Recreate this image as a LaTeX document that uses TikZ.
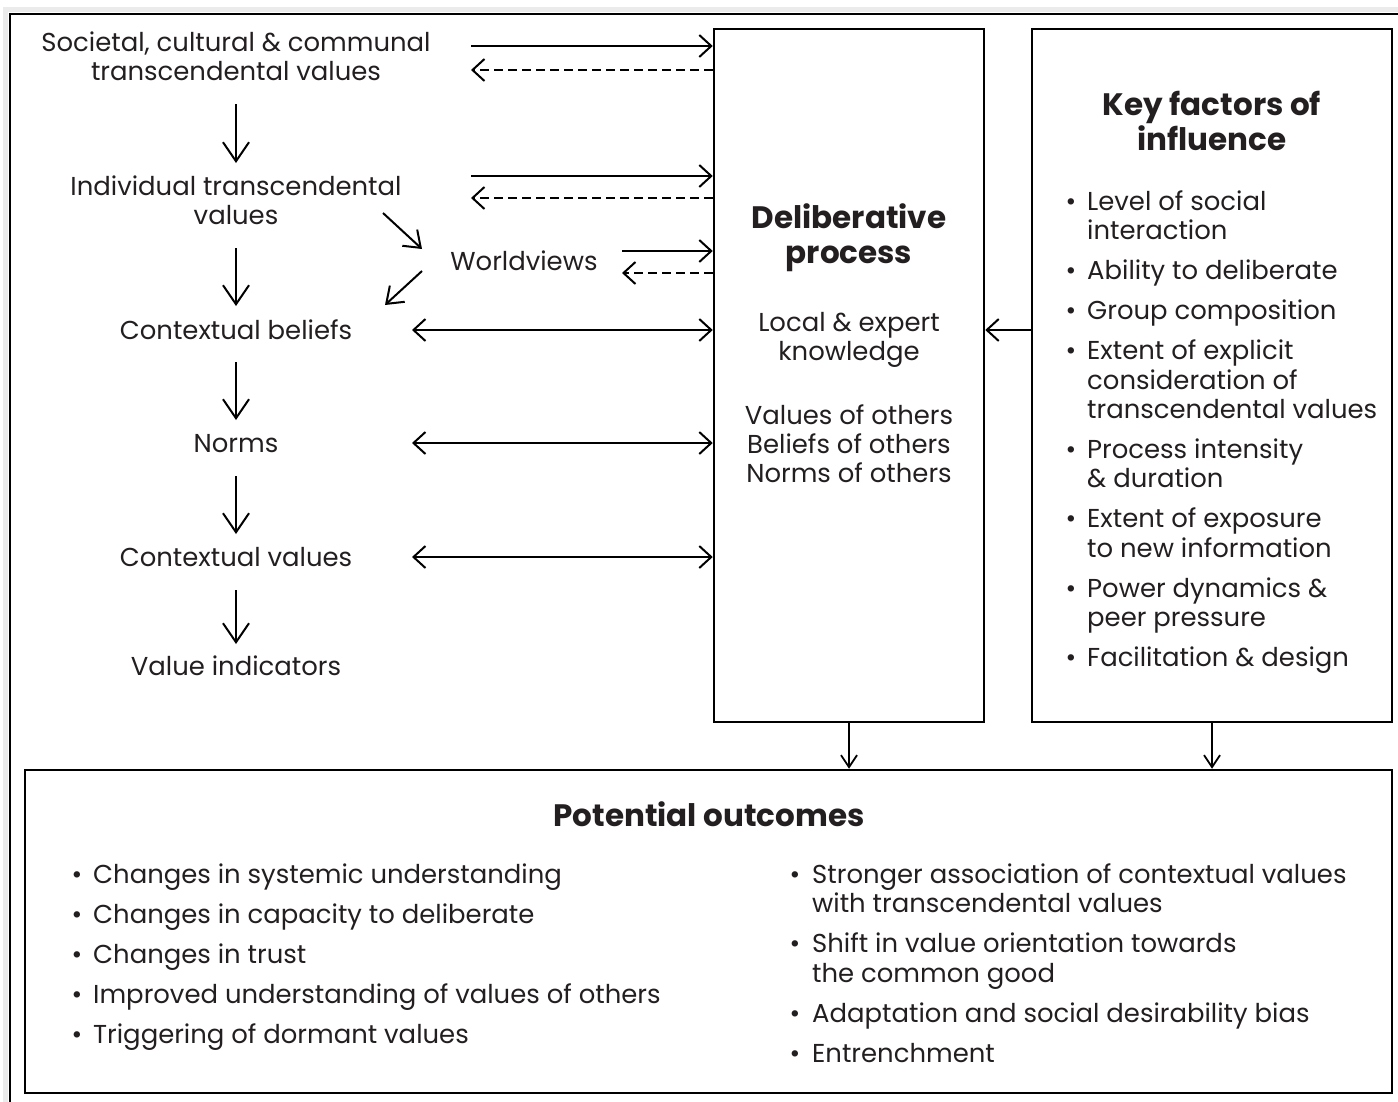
\documentclass[tikz,border=0pt]{standalone}
\usepackage{fontspec}
\setmainfont{Poppins}
\usetikzlibrary{arrows.meta,calc}
\definecolor{tcol}{RGB}{35,31,32}
\newcommand\regf{\fontsize{25.9}{29}\selectfont}
\newcommand\boldf{\fontsize{31}{35}\selectfont\bfseries}
\begin{document}
\begin{tikzpicture}[x=1pt,y=-1pt,
  box/.style={draw=black, line width=2.5pt, inner sep=0pt, fill=none},
  t/.style={font=\regf, text=tcol, inner sep=0pt, anchor=base},
  tl/.style={t, anchor=base west},
  tb/.style={font=\boldf, text=tcol, inner sep=0pt, anchor=base},
  arr/.style={line width=2pt, -{Straight Barb[length=12pt,width=22pt]}},
  darr/.style={arr, dash pattern=on 9pt off 5pt},
  dbl/.style={line width=2pt, {Straight Barb[length=12pt,width=22pt]}-{Straight Barb[length=12pt,width=22pt]}},
  varr/.style={line width=2pt, -{Straight Barb[length=19pt,width=26pt]}},
  diarr/.style={line width=2pt, -{Straight Barb[length=15pt,width=22pt]}},
  sarr/.style={line width=1.8pt, -{Straight Barb[length=12pt,width=16pt]}}
]
\useasboundingbox (0,0) rectangle (1398,1101);
\fill[white] (0,0) rectangle (1398,1101);
% outer frame with faint shadow
\draw[black!8, line width=5pt] (5,1110) -- (5,9) -- (1410,9);
\draw[line width=2.5pt] (10,1110) -- (10,14) -- (1410,14);

% boxes
\node[box, minimum width=270pt, minimum height=693pt] (delib) at (849,375.5) {};
\node[box, minimum width=360pt, minimum height=693pt] (keyf) at (1212,375.5) {};
\node[box, minimum width=1367pt, minimum height=323pt] (outc) at (708.5,931.5) {};

% left column
\node[t] (s1) at (236,51) {Societal, cultural \& communal};
\node[t] (s2) at (236,80) {transcendental values};
\node[t] (i1) at (236,195) {Individual transcendental};
\node[t] (i2) at (236,224) {values};
\node[t] (cb) at (236,339) {Contextual beliefs};
\node[t] (no) at (236,452) {Norms};
\node[t] (cv) at (236,566) {Contextual values};
\node[t] (vi) at (236,675) {Value indicators};
\node[t] (wv) at (524,270) {Worldviews};

\draw[varr] (s2.south |- 0,104) -- (i1.north |- 0,163);
\draw[varr] (i2.south |- 0,248) -- (cb.north |- 0,306);
\draw[varr] (cb.south |- 0,362) -- (no.north |- 0,420);
\draw[varr] (no.south |- 0,476) -- (cv.north |- 0,534);
\draw[varr] (cv.south |- 0,590) -- (vi.north |- 0,644);

\coordinate (d1) at (383,213);
\coordinate (d2) at (422,249);
\coordinate (d3) at (422,271);
\coordinate (d4) at (385,305);
\draw[diarr] (d1) -- (d2);
\draw[diarr] (d3) -- (d4);

% horizontal links
\coordinate (h1) at (471,46);
\coordinate (h2) at (471,70);
\coordinate (h3) at (471,176);
\coordinate (h4) at (471,198);
\coordinate (h5) at (622,251);
\coordinate (h6) at (622,273);
\coordinate (h7) at (412,330);
\coordinate (h8) at (412,443);
\coordinate (h9) at (412,557);
\draw[arr] (h1) -- (delib.west |- h1);
\draw[darr] (delib.west |- h2) -- (h2);
\draw[arr] (h3) -- (delib.west |- h3);
\draw[darr] (delib.west |- h4) -- (h4);
\draw[arr] (h5) -- (delib.west |- h5);
\draw[darr] (delib.west |- h6) -- (h6);
\draw[dbl] (h7) -- (delib.west |- h7);
\draw[dbl] (h8) -- (delib.west |- h8);
\draw[dbl] (h9) -- (delib.west |- h9);

% deliberative process text
\node[tb] (dp1) at (849,228) {Deliberative};
\node[tb] (dp2) at (849,263) {process};
\node[t] (dl1) at (849,331) {Local \& expert};
\node[t] (dl2) at (849,360) {knowledge};
\node[t] (dv1) at (849,424) {Values of others};
\node[t] (dv2) at (849,453) {Beliefs of others};
\node[t] (dv3) at (849,482) {Norms of others};

% key factors
\node[tb] (kh1) at (1212,115) {Key factors of};
\node[tb] (kh2) at (1212,150) {influence};
\foreach \y/\txt/\b [count=\i] in {
  210/Level of social/1, 239/interaction/0,
  279/Ability to deliberate/1,
  319/Group composition/1,
  359/Extent of explicit/1, 389/consideration of/0, 418/transcendental values/0,
  458/Process intensity/1, 487/\& duration/0,
  527/Extent of exposure/1, 557/to new information/0,
  597/Power dynamics \&/1, 626/peer pressure/0,
  666/Facilitation \& design/1}{
  \node[tl] (kf\i) at (1087,\y) {\txt};
  \ifnum\b=1 \node[t] (kb\i) at (1071,\y) {•};\fi
}

\draw[arr] (keyf.west |- 0,330) -- (delib.east |- 0,330);
\draw[sarr] (delib.south) -- (outc.north -| delib.south);
\draw[sarr] (keyf.south) -- (outc.north -| keyf.south);

% outcomes
\node[tb] (po) at (709,826) {Potential outcomes};
\foreach \y/\txt [count=\i] in {
  883/Changes in systemic understanding,
  923/Changes in capacity to deliberate,
  963/Changes in trust,
  1003/Improved understanding of values of others,
  1043/Triggering of dormant values}{
  \node[tl] (ol\i) at (93,\y) {\txt};
  \node[t] (olb\i) at (77,\y) {•};
}
\foreach \y/\txt/\b [count=\i] in {
  883/Stronger association of contextual values/1,
  912/with transcendental values/0,
  952/Shift in value orientation towards/1,
  982/the common good/0,
  1022/Adaptation and social desirability bias/1,
  1062/Entrenchment/1}{
  \node[tl] (or\i) at (812,\y) {\txt};
  \ifnum\b=1 \node[t] (orb\i) at (795,\y) {•};\fi
}
\end{tikzpicture}
\end{document}
